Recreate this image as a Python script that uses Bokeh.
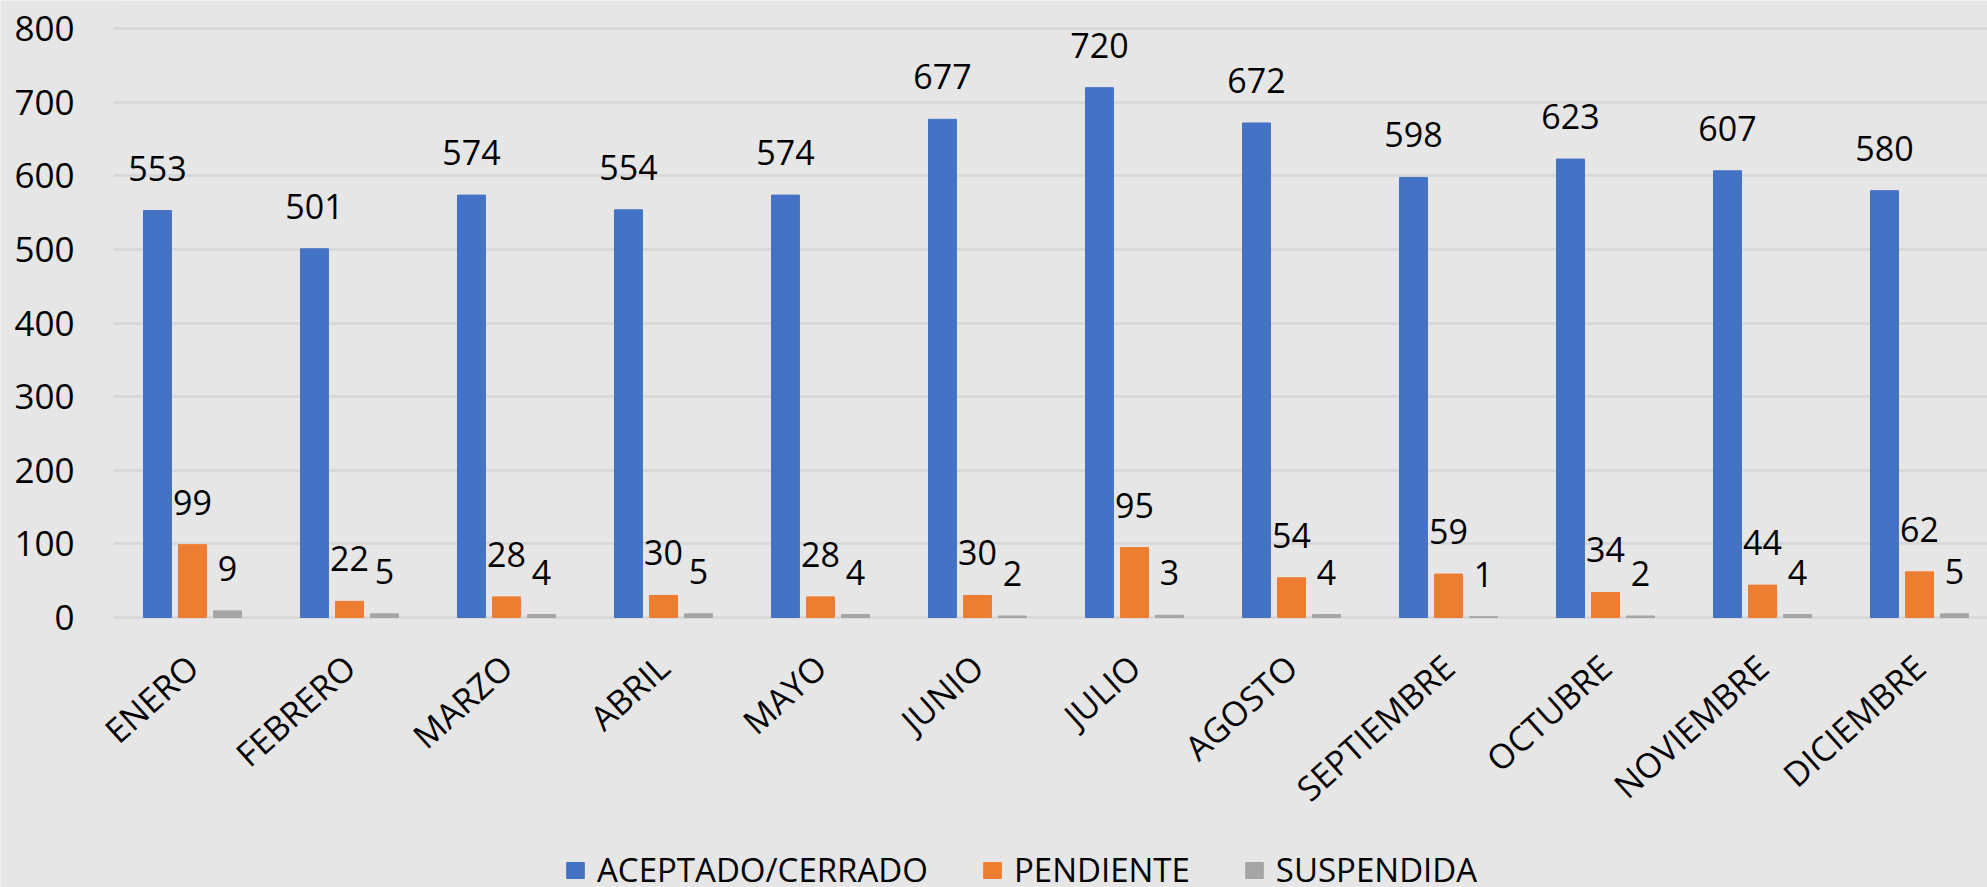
import math
from bokeh.plotting import figure
from bokeh.models import (ColumnDataSource, Range1d, FixedTicker, Legend, LegendItem,
                          LabelSet, BoxAnnotation)
from bokeh.core.properties import value
from bokeh.transform import dodge
from bokeh.embed import file_html
from bokeh.resources import INLINE

months = ["ENERO", "FEBRERO", "MARZO", "ABRIL", "MAYO", "JUNIO", "JULIO",
          "AGOSTO", "SEPTIEMBRE", "OCTUBRE", "NOVIEMBRE", "DICIEMBRE"]
aceptado = [553, 501, 574, 554, 574, 677, 720, 672, 598, 623, 607, 580]
pendiente = [99, 22, 28, 30, 28, 30, 95, 54, 59, 34, 44, 62]
suspendida = [9, 5, 4, 5, 4, 2, 3, 4, 1, 2, 4, 5]
series_names = ["ACEPTADO/CERRADO", "PENDIENTE", "SUSPENDIDA"]
y_ticks = [0, 100, 200, 300, 400, 500, 600, 700, 800]

colors = ["#4472C4", "#ED7D31", "#A5A5A5"]
BG = "#E6E6E6"
FONT = "Open Sans"

# plot-area geometry (x in category units, y in value units)
X_AXIS_POS = -0.503      # where the value axis sits
X_START, X_END = -1.2227, 11.433
Y_START, Y_END = -391.37, 838.45

idx = list(range(len(months)))
src = ColumnDataSource(dict(
    x=idx, a=aceptado, p=pendiente, s=suspendida,
    a_t=[str(v) for v in aceptado],
    p_t=[str(v) for v in pendiente],
    s_t=[str(v) for v in suspendida],
))

p = figure(frame_width=1987, frame_height=905, output_backend="svg", toolbar_location=None,
           x_range=Range1d(X_START, X_END), y_range=Range1d(Y_START, Y_END),
           background_fill_color=BG, border_fill_color=BG,
           min_border_left=0, min_border_right=0, min_border_top=0,
           min_border_bottom=0)
p.outline_line_color = None

p.xgrid.grid_line_color = None
p.ygrid.ticker = FixedTicker(ticks=y_ticks)
p.ygrid.grid_line_color = "#D6D6D6"
p.ygrid.grid_line_width = 2.5

# keep gridlines from running under the value-axis labels
mask = BoxAnnotation(right=X_AXIS_POS, fill_color=BG, fill_alpha=1.0,
                     line_alpha=0, level="underlay")
p.add_layout(mask)

off = 0.223
bw = 0.178
r1 = p.vbar(x=dodge("x", -off), top="a", width=bw, source=src, color=colors[0])
r2 = p.vbar(x=dodge("x", 0.0), top="p", width=bw, source=src, color=colors[1])
r3 = p.vbar(x=dodge("x", off), top="s", width=bw, source=src, color=colors[2])

for col, dx in (("a", -off), ("p", 0.0), ("s", off)):
    lab = LabelSet(x=dodge("x", dx), y=col, text=col + "_t", source=src,
                   text_align="center", text_baseline="alphabetic", y_offset=30,
                   text_font=value(FONT), text_font_size="34px", text_color="black")
    p.add_layout(lab)

# value axis
p.yaxis.fixed_location = X_AXIS_POS
p.yaxis.ticker = FixedTicker(ticks=y_ticks)
p.yaxis.axis_line_color = None
p.yaxis.major_tick_line_color = None
p.yaxis.minor_tick_line_color = None
p.yaxis.major_tick_out = 0
p.yaxis.major_tick_in = 0
p.yaxis.major_label_text_font = FONT
p.yaxis.major_label_text_font_size = "35px"
p.yaxis.major_label_text_color = "black"
p.yaxis.major_label_standoff = 39

# month axis
p.xaxis.fixed_location = 0
p.xaxis.ticker = FixedTicker(ticks=idx)
p.xaxis.major_label_overrides = {i: m for i, m in zip(idx, months)}
p.xaxis.major_label_orientation = math.radians(42)
p.xaxis.axis_line_color = None
p.xaxis.major_tick_line_color = None
p.xaxis.minor_tick_line_color = None
p.xaxis.major_tick_out = 0
p.xaxis.major_tick_in = 0
p.xaxis.major_label_text_font = FONT
p.xaxis.major_label_text_font_size = "34px"
p.xaxis.major_label_text_color = "black"
p.xaxis.major_label_standoff = 44

legend = Legend(items=[LegendItem(label=n, renderers=[r]) for n, r in zip(series_names, [r1, r2, r3])],
                orientation="horizontal", location=(564, 13))
legend.label_text_font = FONT
legend.label_text_font_size = "33px"
legend.label_text_color = "black"
legend.glyph_width = 22
legend.glyph_height = 20
legend.label_standoff = 11
legend.spacing = 53
legend.padding = 0
legend.margin = 0
legend.background_fill_alpha = 0
legend.border_line_alpha = 0
p.add_layout(legend, "center")

open("out.html", "w").write(file_html(p, INLINE))
